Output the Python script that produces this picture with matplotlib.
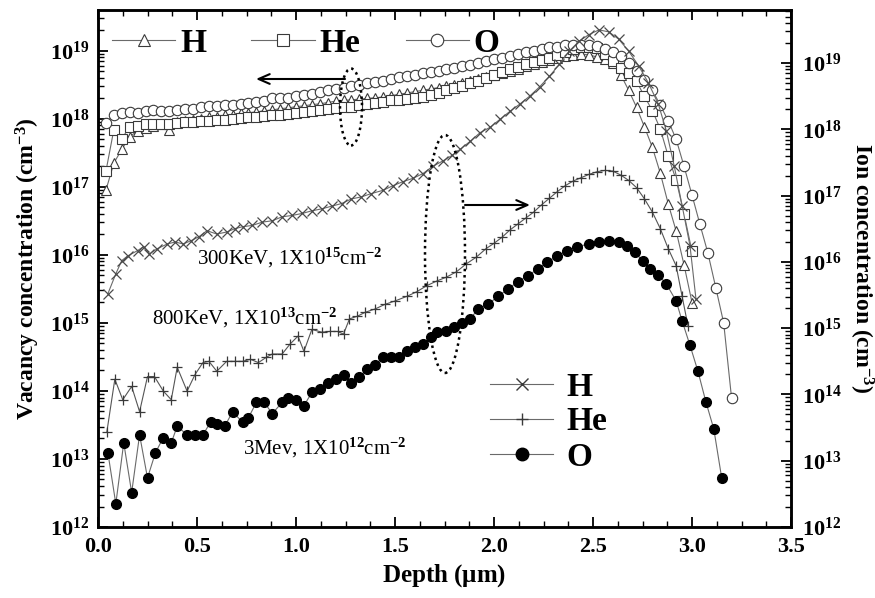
import matplotlib
matplotlib.use('Agg')
import matplotlib.pyplot as plt
import numpy as np
from matplotlib.patches import Ellipse
from matplotlib.lines import Line2D
from matplotlib.ticker import (FixedLocator, MultipleLocator, FuncFormatter,
                               NullFormatter, FormatStrFormatter)

plt.rcParams['font.family'] = ['Liberation Serif', 'DejaVu Serif']
plt.rcParams['font.weight'] = 'bold'
plt.rcParams['mathtext.fontset'] = 'custom'
plt.rcParams['mathtext.rm'] = 'Liberation Serif'
plt.rcParams['mathtext.it'] = 'Liberation Serif:italic'
plt.rcParams['mathtext.bf'] = 'Liberation Serif:bold'

# ---------------- data (log10 of concentration, cm^-3) ----------------
vac_depth = [0.04, 0.08, 0.12, 0.16, 0.20, 0.24, 0.28, 0.32, 0.36, 0.40,
             0.44, 0.48, 0.52, 0.56, 0.60, 0.64, 0.68, 0.72, 0.76, 0.80,
             0.84, 0.88, 0.92, 0.96, 1.00, 1.04, 1.08, 1.12, 1.16, 1.20,
             1.24, 1.28, 1.32, 1.36, 1.40, 1.44, 1.48, 1.52, 1.56, 1.60,
             1.64, 1.68, 1.72, 1.76, 1.80, 1.84, 1.88, 1.92, 1.96, 2.00,
             2.04, 2.08, 2.12, 2.16, 2.20, 2.24, 2.28, 2.32, 2.36, 2.40,
             2.44, 2.48, 2.52, 2.56, 2.60, 2.64, 2.68, 2.72, 2.76, 2.80,
             2.84, 2.88, 2.92, 2.96, 3.00, 3.04, 3.08, 3.12, 3.16, 3.20]

vac_O_log = [17.94, 18.06, 18.08, 18.10, 18.09, 18.11, 18.13, 18.12, 18.11, 18.13,
             18.15, 18.15, 18.18, 18.19, 18.19, 18.21, 18.21, 18.22, 18.24, 18.25,
             18.26, 18.31, 18.30, 18.31, 18.34, 18.35, 18.37, 18.39, 18.42, 18.44,
             18.46, 18.48, 18.50, 18.52, 18.54, 18.56, 18.58, 18.61, 18.63, 18.65,
             18.67, 18.69, 18.71, 18.73, 18.75, 18.77, 18.79, 18.82, 18.85, 18.88,
             18.90, 18.93, 18.95, 18.98, 19.00, 19.03, 19.05, 19.06, 19.08, 19.09,
             19.09, 19.09, 19.07, 19.03, 18.98, 18.92, 18.82, 18.70, 18.57, 18.42,
             18.20, 17.97, 17.70, 17.30, 16.88, 16.45, 16.03, 15.52, 15.00, 13.89]

vac_He_log = [17.23, 17.84, 17.71, 17.88, 17.90, 17.92, 17.93, 17.92, 17.93, 17.94,
              17.95, 17.96, 17.97, 17.97, 17.98, 17.99, 18.00, 18.01, 18.02, 18.03,
              18.04, 18.05, 18.06, 18.07, 18.08, 18.10, 18.12, 18.13, 18.14, 18.16,
              18.17, 18.18, 18.20, 18.22, 18.24, 18.25, 18.27, 18.28, 18.29, 18.30,
              18.32, 18.35, 18.38, 18.42, 18.45, 18.48, 18.52, 18.56, 18.60, 18.65,
              18.69, 18.73, 18.76, 18.80, 18.83, 18.86, 18.90, 18.94, 18.98, 19.02,
              19.05, 19.06, 19.04, 18.95, 18.85, 18.75, 18.67, 18.55, 18.33, 18.12,
              17.85, 17.45, 17.10, 16.60, 16.05]

vac_H_log = [16.95, 17.35, 17.55, 17.74, 17.82, 17.86, 17.90, 17.92, 17.84, 17.95,
             17.97, 17.98, 18.00, 18.02, 18.03, 18.05, 18.06, 18.08, 18.09, 18.10,
             18.12, 18.13, 18.15, 18.16, 18.18, 18.19, 18.21, 18.22, 18.24, 18.26,
             18.27, 18.28, 18.29, 18.30, 18.31, 18.32, 18.34, 18.36, 18.38, 18.40,
             18.42, 18.44, 18.46, 18.48, 18.50, 18.52, 18.55, 18.58, 18.62, 18.65,
             18.68, 18.71, 18.74, 18.77, 18.80, 18.83, 18.86, 18.89, 18.92, 18.94,
             18.95, 18.94, 18.91, 18.88, 18.82, 18.65, 18.42, 18.17, 17.88, 17.58,
             17.20, 16.75, 16.35, 15.85, 15.30]

ion_H_depth = [0.05, 0.09, 0.12, 0.15, 0.20, 0.23, 0.26, 0.30, 0.35, 0.39,
               0.43, 0.47, 0.51, 0.55, 0.60, 0.65, 0.69, 0.73, 0.78, 0.83,
               0.88, 0.93, 0.98, 1.03, 1.08, 1.13, 1.18, 1.23, 1.28, 1.33,
               1.38, 1.44, 1.49, 1.54, 1.59, 1.64, 1.69, 1.74, 1.79, 1.83,
               1.88, 1.93, 1.98, 2.03, 2.08, 2.13, 2.18, 2.23, 2.28, 2.33,
               2.38, 2.43, 2.48, 2.53, 2.58, 2.63, 2.68, 2.73, 2.78, 2.83,
               2.87, 2.91, 2.95, 2.99, 3.02]
ion_H_log = [15.52, 15.82, 16.02, 16.09, 16.17, 16.23, 16.12, 16.20, 16.27, 16.30,
             16.27, 16.32, 16.38, 16.47, 16.42, 16.45, 16.50, 16.53, 16.55, 16.60,
             16.62, 16.68, 16.70, 16.73, 16.77, 16.80, 16.84, 16.88, 16.95, 16.98,
             17.03, 17.08, 17.15, 17.21, 17.26, 17.33, 17.44, 17.52, 17.61, 17.70,
             17.82, 17.95, 18.03, 18.15, 18.27, 18.38, 18.50, 18.64, 18.80, 18.98,
             19.18, 19.33, 19.43, 19.50, 19.47, 19.36, 19.18, 18.96, 18.70, 18.38,
             17.98, 17.45, 16.85, 16.24, 15.44]

ion_He_depth = [0.045, 0.085, 0.125, 0.17, 0.21, 0.25, 0.285, 0.33, 0.37, 0.40,
                0.45, 0.49, 0.53, 0.56, 0.60, 0.65, 0.69, 0.73, 0.77, 0.81,
                0.85, 0.88, 0.93, 0.97, 1.01, 1.04, 1.08, 1.13, 1.17, 1.21,
                1.24, 1.27, 1.31, 1.35, 1.40, 1.45, 1.50, 1.56, 1.61, 1.66,
                1.71, 1.76, 1.81, 1.86, 1.91, 1.96, 2.00, 2.04, 2.08, 2.12,
                2.16, 2.20, 2.24, 2.28, 2.32, 2.36, 2.40, 2.44, 2.48, 2.52,
                2.56, 2.60, 2.64, 2.68, 2.72, 2.76, 2.80, 2.84, 2.88, 2.92,
                2.95, 2.98]
ion_He_log = [13.44, 14.23, 13.92, 14.12, 13.74, 14.27, 14.27, 14.05, 13.92, 14.41,
              14.05, 14.30, 14.48, 14.50, 14.35, 14.50, 14.50, 14.50, 14.53, 14.48,
              14.56, 14.61, 14.61, 14.76, 14.88, 14.65, 14.98, 14.94, 14.95, 14.95,
              14.91, 15.14, 15.18, 15.24, 15.29, 15.36, 15.41, 15.48, 15.55, 15.64,
              15.71, 15.77, 15.85, 15.97, 16.07, 16.20, 16.28, 16.37, 16.48, 16.57,
              16.66, 16.75, 16.86, 16.96, 17.06, 17.15, 17.22, 17.27, 17.32, 17.36,
              17.38, 17.37, 17.31, 17.23, 17.12, 16.95, 16.75, 16.50, 16.20, 15.94,
              15.48, 15.03]

ion_O_depth = [0.05, 0.09, 0.13, 0.17, 0.21, 0.25, 0.29, 0.33, 0.37, 0.40,
               0.45, 0.49, 0.53, 0.57, 0.60, 0.64, 0.68, 0.73, 0.76, 0.80,
               0.84, 0.88, 0.93, 0.96, 1.00, 1.04, 1.08, 1.12, 1.16, 1.20,
               1.24, 1.28, 1.32, 1.36, 1.40, 1.44, 1.48, 1.52, 1.56, 1.60,
               1.64, 1.68, 1.71, 1.76, 1.80, 1.84, 1.88, 1.92, 1.97, 2.02,
               2.07, 2.12, 2.17, 2.22, 2.27, 2.32, 2.37, 2.42, 2.48, 2.53,
               2.58, 2.63, 2.67, 2.71, 2.75, 2.79, 2.83, 2.87, 2.92, 2.95,
               2.99, 3.03, 3.07, 3.11, 3.15]
ion_O_log = [13.12, 12.35, 13.27, 12.52, 13.39, 12.74, 13.12, 13.35, 13.27, 13.52,
             13.39, 13.39, 13.39, 13.59, 13.56, 13.52, 13.74, 13.58, 13.65, 13.88,
             13.88, 13.71, 13.88, 13.95, 13.92, 13.83, 14.03, 14.08, 14.18, 14.23,
             14.30, 14.18, 14.26, 14.38, 14.45, 14.56, 14.56, 14.56, 14.65, 14.71,
             14.76, 14.86, 14.94, 14.95, 15.02, 15.08, 15.14, 15.29, 15.36, 15.48,
             15.59, 15.70, 15.79, 15.89, 16.00, 16.09, 16.17, 16.23, 16.27, 16.30,
             16.32, 16.30, 16.24, 16.15, 16.02, 15.90, 15.80, 15.67, 15.41, 15.11,
             14.74, 14.35, 13.89, 13.48, 12.74]

species = ['H', 'He', 'O']
decades = [12, 13, 14, 15, 16, 17, 18, 19]
annotations = [r'300KeV, 1X10$^{15}$cm$^{-2}$',
               r'800KeV, 1X10$^{13}$cm$^{-2}$',
               r'3Mev, 1X10$^{12}$cm$^{-2}$']

# ---------------- figure ----------------
W, H = 875, 598
L, R, T, B = 98, 791, 10, 527
fig = plt.figure(figsize=(W / 100, H / 100), dpi=100)
ax = fig.add_axes([L / W, 1 - B / H, (R - L) / W, (B - T) / H])
ax2 = ax.twinx()


def fx(px):
    return (px - L) / (R - L)


def fy(py):
    return (B - py) / (B - T)


line_c = '#6a6a6a'
edge_c = '#3a3a3a'
lw = 0.8

vac_H = np.power(10.0, vac_H_log)
vac_He = np.power(10.0, vac_He_log)
vac_O = np.power(10.0, vac_O_log)
nH = len(vac_H)
nHe = len(vac_He)

ax.plot(vac_depth[:nH], vac_H, color=line_c, lw=lw, marker='^', ms=7.5,
        mfc='white', mec=edge_c, mew=0.8, zorder=3)
ax.plot(vac_depth[:nHe], vac_He, color=line_c, lw=lw, marker='s', ms=6.5,
        mfc='white', mec=edge_c, mew=0.8, zorder=3)
ax.plot(vac_depth, vac_O, color=line_c, lw=lw, marker='o', ms=7.5,
        mfc='white', mec=edge_c, mew=0.8, zorder=3)

ax2.plot(ion_H_depth, np.power(10.0, ion_H_log), color=line_c, lw=lw, marker='x',
         ms=7, mec='#4a4a4a', mew=0.9, zorder=3)
ax2.plot(ion_He_depth, np.power(10.0, ion_He_log), color='#555555', lw=lw, marker='+',
         ms=7, mec='#3a3a3a', mew=0.9, zorder=3)
ax2.plot(ion_O_depth, np.power(10.0, ion_O_log), color=line_c, lw=lw, marker='o',
         ms=7, mfc='black', mec='black', zorder=3)

# ---------------- axes ----------------
ax.set_xlim(0.0, 3.5)
ax.set_yscale('log')
ax2.set_yscale('log')
ax.set_ylim(1e12, 10 ** 19.60)
ax2.set_ylim(1e12, 10 ** 19.80)

ax.xaxis.set_major_locator(MultipleLocator(0.5))
ax.xaxis.set_minor_locator(MultipleLocator(0.125))
ax.xaxis.set_major_formatter(FormatStrFormatter('%.1f'))

major_vals = [10.0 ** d for d in decades]
minor_vals = [m * 10.0 ** d for d in decades for m in range(2, 10)]
dec_fmt = FuncFormatter(lambda v, p: r'$\mathbf{10^{%d}}$' % int(round(np.log10(v))))
for a in (ax, ax2):
    a.yaxis.set_major_locator(FixedLocator(major_vals))
    a.yaxis.set_minor_locator(FixedLocator(minor_vals))
    a.yaxis.set_minor_formatter(NullFormatter())
    a.yaxis.set_major_formatter(dec_fmt)

ax.tick_params(axis='both', which='major', direction='in', length=7, width=1.3,
               labelsize=16, top=True, right=False)
ax.tick_params(axis='both', which='minor', direction='in', length=4, width=1.0,
               top=True, right=False)
ax.tick_params(axis='x', pad=7)
ax.tick_params(axis='y', pad=6)
ax2.tick_params(axis='y', which='major', direction='in', length=7, width=1.3,
                labelsize=16, pad=8)
ax2.tick_params(axis='y', which='minor', direction='in', length=4, width=1.0)

for a in (ax, ax2):
    for s in a.spines.values():
        s.set_linewidth(1.8)

ax.set_xlabel(r'Depth ($\mathbf{\mu}$m)', fontsize=18, fontweight='bold', labelpad=4)
ax.set_ylabel(r'Vacancy concentration (cm$^{\mathbf{-3}}$)', fontsize=17,
              fontweight='bold', labelpad=6)
ax2.set_ylabel(r'Ion concentration (cm$^{\mathbf{-3}}$)', fontsize=17,
               fontweight='bold', rotation=270, labelpad=24)

# ---------------- legends ----------------
vac_handles = [
    Line2D([], [], color=line_c, lw=lw, marker='^', ms=9, mfc='white', mec=edge_c, mew=0.8),
    Line2D([], [], color=line_c, lw=lw, marker='s', ms=8, mfc='white', mec=edge_c, mew=0.8),
    Line2D([], [], color=line_c, lw=lw, marker='o', ms=9, mfc='white', mec=edge_c, mew=0.8),
]
leg1 = ax.legend(vac_handles, species, loc='center left',
                 bbox_to_anchor=(fx(112), fy(43)), ncol=3, frameon=False,
                 prop={'family': 'Liberation Serif', 'weight': 'bold', 'size': 24},
                 handlelength=1.9, handletextpad=0.15, columnspacing=1.35,
                 borderaxespad=0, borderpad=0)

ion_handles = [
    Line2D([], [], color=line_c, lw=lw, marker='x', ms=9, mec='#3a3a3a', mew=1.0),
    Line2D([], [], color=line_c, lw=lw, marker='+', ms=9, mec='#3a3a3a', mew=1.0),
    Line2D([], [], color=line_c, lw=lw, marker='o', ms=9, mfc='black', mec='black'),
]
leg2 = ax2.legend(ion_handles, species, loc='center left',
                  bbox_to_anchor=(fx(490), fy(422)), ncol=1, frameon=False,
                  prop={'family': 'Liberation Serif', 'weight': 'bold', 'size': 24},
                  handlelength=1.9, handletextpad=0.4, labelspacing=0.12,
                  borderaxespad=0, borderpad=0)

# ---------------- annotations ----------------
ann_pos = [(197, 258), (152, 318), (243, 448)]
for txt, (px, py) in zip(annotations, ann_pos):
    ax2.text(fx(px), fy(py), txt, transform=ax2.transAxes, ha='left', va='center',
             fontsize=15, fontweight='normal', family='Liberation Serif', zorder=5)

ax2.add_patch(Ellipse((fx(351), fy(107)), fx(362) - fx(340), fy(68) - fy(145),
                      transform=ax2.transAxes, fill=False, ls=(0, (1, 1.5)),
                      lw=1.8, ec='black', zorder=6))
ax2.add_patch(Ellipse((fx(445), fy(254)), fx(465) - fx(425), fy(135) - fy(373),
                      transform=ax2.transAxes, fill=False, ls=(0, (1, 1.5)),
                      lw=1.8, ec='black', zorder=6))

ax2.annotate('', xy=(fx(256), fy(79)), xytext=(fx(345), fy(79)),
             xycoords=ax2.transAxes, textcoords=ax2.transAxes,
             arrowprops=dict(arrowstyle='->,head_length=0.8,head_width=0.35',
                             lw=1.5, color='black', shrinkA=0, shrinkB=0))
ax2.annotate('', xy=(fx(530), fy(205)), xytext=(fx(465), fy(205)),
             xycoords=ax2.transAxes, textcoords=ax2.transAxes,
             arrowprops=dict(arrowstyle='->,head_length=0.8,head_width=0.35',
                             lw=1.5, color='black', shrinkA=0, shrinkB=0))

fig.savefig('out.png', dpi=100)
